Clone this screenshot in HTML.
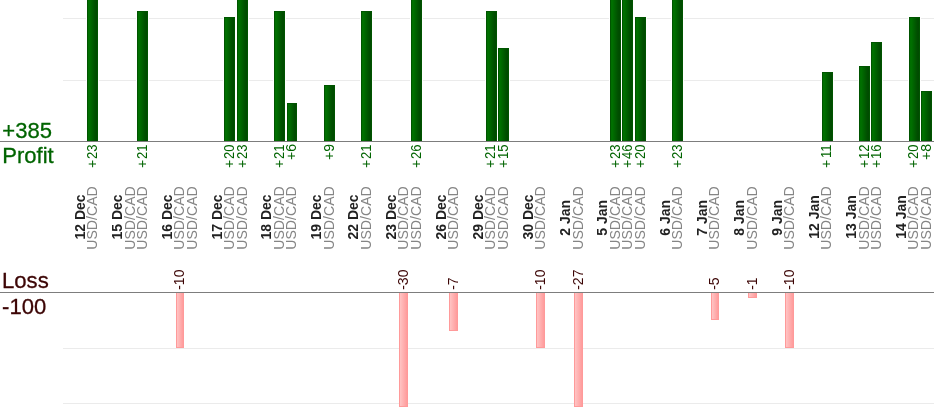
<!DOCTYPE html>
<html><head><meta charset="utf-8"><title>Profit / Loss</title>
<style>html,body{margin:0;padding:0;background:#fff;overflow:hidden}svg{display:block;font-family:"Liberation Sans",sans-serif}</style></head>
<body>
<svg width="934" height="420" viewBox="0 0 934 420">
<defs><linearGradient id="g" x1="0" y1="0" x2="1" y2="0"><stop offset="0" stop-color="#006e00"/><stop offset="0.15" stop-color="#007000"/><stop offset="0.8" stop-color="#004e00"/><stop offset="1" stop-color="#004a00"/></linearGradient>
<linearGradient id="r" x1="0" y1="0" x2="1" y2="0"><stop offset="0" stop-color="#ffc4c4"/><stop offset="1" stop-color="#ff9c9c"/></linearGradient></defs>
<rect width="934" height="420" fill="#fff"/>
<rect x="63" y="18" width="871" height="1" fill="#ebebeb"/>
<rect x="63" y="80" width="871" height="1" fill="#ebebeb"/>
<rect x="63" y="348" width="871" height="1" fill="#ebebeb"/>
<rect x="63" y="403" width="871" height="1" fill="#ebebeb"/>
<rect x="86" y="-4" width="13" height="145" fill="#fff"/>
<rect x="87" y="-3" width="11" height="144" fill="#005400"/>
<rect x="88" y="-2" width="9" height="143" fill="url(#g)"/>
<rect x="136" y="10" width="13" height="131" fill="#fff"/>
<rect x="137" y="11" width="11" height="130" fill="#005400"/>
<rect x="138" y="12" width="9" height="129" fill="url(#g)"/>
<rect x="176" y="293" width="8" height="55" fill="#ff9a9a"/>
<rect x="177" y="293" width="6" height="54" fill="url(#r)"/>
<rect x="223" y="16" width="13" height="125" fill="#fff"/>
<rect x="224" y="17" width="11" height="124" fill="#005400"/>
<rect x="225" y="18" width="9" height="123" fill="url(#g)"/>
<rect x="236" y="-4" width="13" height="145" fill="#fff"/>
<rect x="237" y="-3" width="11" height="144" fill="#005400"/>
<rect x="238" y="-2" width="9" height="143" fill="url(#g)"/>
<rect x="273" y="10" width="13" height="131" fill="#fff"/>
<rect x="274" y="11" width="11" height="130" fill="#005400"/>
<rect x="275" y="12" width="9" height="129" fill="url(#g)"/>
<rect x="286" y="102" width="12" height="39" fill="#fff"/>
<rect x="287" y="103" width="10" height="38" fill="#005400"/>
<rect x="288" y="104" width="8" height="37" fill="url(#g)"/>
<rect x="323" y="84" width="13" height="57" fill="#fff"/>
<rect x="324" y="85" width="11" height="56" fill="#005400"/>
<rect x="325" y="86" width="9" height="55" fill="url(#g)"/>
<rect x="360" y="10" width="13" height="131" fill="#fff"/>
<rect x="361" y="11" width="11" height="130" fill="#005400"/>
<rect x="362" y="12" width="9" height="129" fill="url(#g)"/>
<rect x="399" y="293" width="9" height="114" fill="#ff9a9a"/>
<rect x="400" y="293" width="7" height="113" fill="url(#r)"/>
<rect x="410" y="-4" width="13" height="145" fill="#fff"/>
<rect x="411" y="-3" width="11" height="144" fill="#005400"/>
<rect x="412" y="-2" width="9" height="143" fill="url(#g)"/>
<rect x="449" y="293" width="9" height="38" fill="#ff9a9a"/>
<rect x="450" y="293" width="7" height="37" fill="url(#r)"/>
<rect x="485" y="10" width="13" height="131" fill="#fff"/>
<rect x="486" y="11" width="11" height="130" fill="#005400"/>
<rect x="487" y="12" width="9" height="129" fill="url(#g)"/>
<rect x="497" y="47" width="13" height="94" fill="#fff"/>
<rect x="498" y="48" width="11" height="93" fill="#005400"/>
<rect x="499" y="49" width="9" height="92" fill="url(#g)"/>
<rect x="536" y="293" width="9" height="55" fill="#ff9a9a"/>
<rect x="537" y="293" width="7" height="54" fill="url(#r)"/>
<rect x="574" y="293" width="9" height="114" fill="#ff9a9a"/>
<rect x="575" y="293" width="7" height="113" fill="url(#r)"/>
<rect x="609" y="-4" width="13" height="145" fill="#fff"/>
<rect x="610" y="-3" width="11" height="144" fill="#005400"/>
<rect x="611" y="-2" width="9" height="143" fill="url(#g)"/>
<rect x="621" y="-4" width="13" height="145" fill="#fff"/>
<rect x="622" y="-3" width="11" height="144" fill="#005400"/>
<rect x="623" y="-2" width="9" height="143" fill="url(#g)"/>
<rect x="634" y="16" width="13" height="125" fill="#fff"/>
<rect x="635" y="17" width="11" height="124" fill="#005400"/>
<rect x="636" y="18" width="9" height="123" fill="url(#g)"/>
<rect x="671" y="-4" width="13" height="145" fill="#fff"/>
<rect x="672" y="-3" width="11" height="144" fill="#005400"/>
<rect x="673" y="-2" width="9" height="143" fill="url(#g)"/>
<rect x="711" y="293" width="8" height="27" fill="#ff9a9a"/>
<rect x="712" y="293" width="6" height="26" fill="url(#r)"/>
<rect x="748" y="293" width="9" height="5" fill="#ff9a9a"/>
<rect x="749" y="293" width="7" height="4" fill="url(#r)"/>
<rect x="785" y="293" width="9" height="55" fill="#ff9a9a"/>
<rect x="786" y="293" width="7" height="54" fill="url(#r)"/>
<rect x="821" y="71" width="13" height="70" fill="#fff"/>
<rect x="822" y="72" width="11" height="69" fill="#005400"/>
<rect x="823" y="73" width="9" height="68" fill="url(#g)"/>
<rect x="858" y="65" width="13" height="76" fill="#fff"/>
<rect x="859" y="66" width="11" height="75" fill="#005400"/>
<rect x="860" y="67" width="9" height="74" fill="url(#g)"/>
<rect x="870" y="41" width="13" height="100" fill="#fff"/>
<rect x="871" y="42" width="11" height="99" fill="#005400"/>
<rect x="872" y="43" width="9" height="98" fill="url(#g)"/>
<rect x="908" y="16" width="13" height="125" fill="#fff"/>
<rect x="909" y="17" width="11" height="124" fill="#005400"/>
<rect x="910" y="18" width="9" height="123" fill="url(#g)"/>
<rect x="920" y="90" width="13" height="51" fill="#fff"/>
<rect x="921" y="91" width="11" height="50" fill="#005400"/>
<rect x="922" y="92" width="9" height="49" fill="url(#g)"/>
<rect x="0" y="141" width="934" height="1" fill="#7d7d7d"/>
<rect x="0" y="292" width="934" height="1" fill="#7d7d7d"/>
<text transform="translate(84.70,217.0) rotate(-90)" text-anchor="middle" font-size="14" font-weight="bold" fill="#222">12 Dec</text>
<text transform="translate(97.25,218.0) rotate(-90)" text-anchor="middle" font-size="14.1" fill="#858585">USD/CAD</text>
<text transform="translate(97.25,144.60000000000002) rotate(-90) scale(0.93,1)" text-anchor="end" font-size="14" fill="#006400">23</text>
<text transform="translate(97.25,159.87) rotate(-90)" text-anchor="end" font-size="14" fill="#006400">+</text>
<text transform="translate(122.03,217.0) rotate(-90)" text-anchor="middle" font-size="14" font-weight="bold" fill="#222">15 Dec</text>
<text transform="translate(134.57,218.0) rotate(-90)" text-anchor="middle" font-size="14.1" fill="#858585">USD/CAD</text>
<text transform="translate(147.02,218.0) rotate(-90)" text-anchor="middle" font-size="14.1" fill="#858585">USD/CAD</text>
<text transform="translate(147.02,144.60000000000002) rotate(-90) scale(0.93,1)" text-anchor="end" font-size="14" fill="#006400">21</text>
<text transform="translate(147.02,159.87) rotate(-90)" text-anchor="end" font-size="14" fill="#006400">+</text>
<text transform="translate(171.80,217.0) rotate(-90)" text-anchor="middle" font-size="14" font-weight="bold" fill="#222">16 Dec</text>
<text transform="translate(184.35,218.0) rotate(-90)" text-anchor="middle" font-size="14.1" fill="#858585">USD/CAD</text>
<text transform="translate(184.35,289.8) rotate(-90)" text-anchor="start" font-size="14" fill="#3c0505">-10</text>
<text transform="translate(196.79,218.0) rotate(-90)" text-anchor="middle" font-size="14.1" fill="#858585">USD/CAD</text>
<text transform="translate(221.57,217.0) rotate(-90)" text-anchor="middle" font-size="14" font-weight="bold" fill="#222">17 Dec</text>
<text transform="translate(234.12,218.0) rotate(-90)" text-anchor="middle" font-size="14.1" fill="#858585">USD/CAD</text>
<text transform="translate(234.12,144.60000000000002) rotate(-90) scale(0.93,1)" text-anchor="end" font-size="14" fill="#006400">20</text>
<text transform="translate(234.12,159.87) rotate(-90)" text-anchor="end" font-size="14" fill="#006400">+</text>
<text transform="translate(246.56,218.0) rotate(-90)" text-anchor="middle" font-size="14.1" fill="#858585">USD/CAD</text>
<text transform="translate(246.56,144.60000000000002) rotate(-90) scale(0.93,1)" text-anchor="end" font-size="14" fill="#006400">23</text>
<text transform="translate(246.56,159.87) rotate(-90)" text-anchor="end" font-size="14" fill="#006400">+</text>
<text transform="translate(271.35,217.0) rotate(-90)" text-anchor="middle" font-size="14" font-weight="bold" fill="#222">18 Dec</text>
<text transform="translate(283.89,218.0) rotate(-90)" text-anchor="middle" font-size="14.1" fill="#858585">USD/CAD</text>
<text transform="translate(283.89,144.60000000000002) rotate(-90) scale(0.93,1)" text-anchor="end" font-size="14" fill="#006400">21</text>
<text transform="translate(283.89,159.87) rotate(-90)" text-anchor="end" font-size="14" fill="#006400">+</text>
<text transform="translate(296.33,218.0) rotate(-90)" text-anchor="middle" font-size="14.1" fill="#858585">USD/CAD</text>
<text transform="translate(296.33,144.0) rotate(-90)" text-anchor="end" font-size="14" fill="#006400">+6</text>
<text transform="translate(321.12,217.0) rotate(-90)" text-anchor="middle" font-size="14" font-weight="bold" fill="#222">19 Dec</text>
<text transform="translate(333.66,218.0) rotate(-90)" text-anchor="middle" font-size="14.1" fill="#858585">USD/CAD</text>
<text transform="translate(333.66,144.0) rotate(-90)" text-anchor="end" font-size="14" fill="#006400">+9</text>
<text transform="translate(358.45,217.0) rotate(-90)" text-anchor="middle" font-size="14" font-weight="bold" fill="#222">22 Dec</text>
<text transform="translate(370.99,218.0) rotate(-90)" text-anchor="middle" font-size="14.1" fill="#858585">USD/CAD</text>
<text transform="translate(370.99,144.60000000000002) rotate(-90) scale(0.93,1)" text-anchor="end" font-size="14" fill="#006400">21</text>
<text transform="translate(370.99,159.87) rotate(-90)" text-anchor="end" font-size="14" fill="#006400">+</text>
<text transform="translate(395.77,217.0) rotate(-90)" text-anchor="middle" font-size="14" font-weight="bold" fill="#222">23 Dec</text>
<text transform="translate(408.32,218.0) rotate(-90)" text-anchor="middle" font-size="14.1" fill="#858585">USD/CAD</text>
<text transform="translate(408.32,289.8) rotate(-90)" text-anchor="start" font-size="14" fill="#3c0505">-30</text>
<text transform="translate(420.76,218.0) rotate(-90)" text-anchor="middle" font-size="14.1" fill="#858585">USD/CAD</text>
<text transform="translate(420.76,144.60000000000002) rotate(-90) scale(0.93,1)" text-anchor="end" font-size="14" fill="#006400">26</text>
<text transform="translate(420.76,159.87) rotate(-90)" text-anchor="end" font-size="14" fill="#006400">+</text>
<text transform="translate(445.55,217.0) rotate(-90)" text-anchor="middle" font-size="14" font-weight="bold" fill="#222">26 Dec</text>
<text transform="translate(458.09,218.0) rotate(-90)" text-anchor="middle" font-size="14.1" fill="#858585">USD/CAD</text>
<text transform="translate(458.09,289.8) rotate(-90)" text-anchor="start" font-size="14" fill="#3c0505">-7</text>
<text transform="translate(482.87,217.0) rotate(-90)" text-anchor="middle" font-size="14" font-weight="bold" fill="#222">29 Dec</text>
<text transform="translate(495.42,218.0) rotate(-90)" text-anchor="middle" font-size="14.1" fill="#858585">USD/CAD</text>
<text transform="translate(495.42,144.60000000000002) rotate(-90) scale(0.93,1)" text-anchor="end" font-size="14" fill="#006400">21</text>
<text transform="translate(495.42,159.87) rotate(-90)" text-anchor="end" font-size="14" fill="#006400">+</text>
<text transform="translate(507.86,218.0) rotate(-90)" text-anchor="middle" font-size="14.1" fill="#858585">USD/CAD</text>
<text transform="translate(507.86,144.60000000000002) rotate(-90) scale(0.93,1)" text-anchor="end" font-size="14" fill="#006400">15</text>
<text transform="translate(507.86,159.87) rotate(-90)" text-anchor="end" font-size="14" fill="#006400">+</text>
<text transform="translate(532.65,217.0) rotate(-90)" text-anchor="middle" font-size="14" font-weight="bold" fill="#222">30 Dec</text>
<text transform="translate(545.19,218.0) rotate(-90)" text-anchor="middle" font-size="14.1" fill="#858585">USD/CAD</text>
<text transform="translate(545.19,289.8) rotate(-90)" text-anchor="start" font-size="14" fill="#3c0505">-10</text>
<text transform="translate(569.97,217.8) rotate(-90)" text-anchor="middle" font-size="14" font-weight="bold" fill="#222">2 Jan</text>
<text transform="translate(582.52,218.0) rotate(-90)" text-anchor="middle" font-size="14.1" fill="#858585">USD/CAD</text>
<text transform="translate(582.52,289.8) rotate(-90)" text-anchor="start" font-size="14" fill="#3c0505">-27</text>
<text transform="translate(607.30,217.8) rotate(-90)" text-anchor="middle" font-size="14" font-weight="bold" fill="#222">5 Jan</text>
<text transform="translate(619.85,218.0) rotate(-90)" text-anchor="middle" font-size="14.1" fill="#858585">USD/CAD</text>
<text transform="translate(619.85,144.60000000000002) rotate(-90) scale(0.93,1)" text-anchor="end" font-size="14" fill="#006400">23</text>
<text transform="translate(619.85,159.87) rotate(-90)" text-anchor="end" font-size="14" fill="#006400">+</text>
<text transform="translate(632.29,218.0) rotate(-90)" text-anchor="middle" font-size="14.1" fill="#858585">USD/CAD</text>
<text transform="translate(632.29,144.60000000000002) rotate(-90) scale(0.93,1)" text-anchor="end" font-size="14" fill="#006400">46</text>
<text transform="translate(632.29,159.87) rotate(-90)" text-anchor="end" font-size="14" fill="#006400">+</text>
<text transform="translate(644.73,218.0) rotate(-90)" text-anchor="middle" font-size="14.1" fill="#858585">USD/CAD</text>
<text transform="translate(644.73,144.60000000000002) rotate(-90) scale(0.93,1)" text-anchor="end" font-size="14" fill="#006400">20</text>
<text transform="translate(644.73,159.87) rotate(-90)" text-anchor="end" font-size="14" fill="#006400">+</text>
<text transform="translate(669.52,217.8) rotate(-90)" text-anchor="middle" font-size="14" font-weight="bold" fill="#222">6 Jan</text>
<text transform="translate(682.06,218.0) rotate(-90)" text-anchor="middle" font-size="14.1" fill="#858585">USD/CAD</text>
<text transform="translate(682.06,144.60000000000002) rotate(-90) scale(0.93,1)" text-anchor="end" font-size="14" fill="#006400">23</text>
<text transform="translate(682.06,159.87) rotate(-90)" text-anchor="end" font-size="14" fill="#006400">+</text>
<text transform="translate(706.85,217.8) rotate(-90)" text-anchor="middle" font-size="14" font-weight="bold" fill="#222">7 Jan</text>
<text transform="translate(719.39,218.0) rotate(-90)" text-anchor="middle" font-size="14.1" fill="#858585">USD/CAD</text>
<text transform="translate(719.39,289.8) rotate(-90)" text-anchor="start" font-size="14" fill="#3c0505">-5</text>
<text transform="translate(744.17,217.8) rotate(-90)" text-anchor="middle" font-size="14" font-weight="bold" fill="#222">8 Jan</text>
<text transform="translate(756.72,218.0) rotate(-90)" text-anchor="middle" font-size="14.1" fill="#858585">USD/CAD</text>
<text transform="translate(756.72,289.8) rotate(-90)" text-anchor="start" font-size="14" fill="#3c0505">-1</text>
<text transform="translate(781.50,217.8) rotate(-90)" text-anchor="middle" font-size="14" font-weight="bold" fill="#222">9 Jan</text>
<text transform="translate(794.05,218.0) rotate(-90)" text-anchor="middle" font-size="14.1" fill="#858585">USD/CAD</text>
<text transform="translate(794.05,289.8) rotate(-90)" text-anchor="start" font-size="14" fill="#3c0505">-10</text>
<text transform="translate(818.83,217.0) rotate(-90)" text-anchor="middle" font-size="14" font-weight="bold" fill="#222">12 Jan</text>
<text transform="translate(831.37,218.0) rotate(-90)" text-anchor="middle" font-size="14.1" fill="#858585">USD/CAD</text>
<text transform="translate(831.37,144.60000000000002) rotate(-90) scale(0.93,1)" text-anchor="end" font-size="14" fill="#006400">11</text>
<text transform="translate(831.37,159.87) rotate(-90)" text-anchor="end" font-size="14" fill="#006400">+</text>
<text transform="translate(856.16,217.0) rotate(-90)" text-anchor="middle" font-size="14" font-weight="bold" fill="#222">13 Jan</text>
<text transform="translate(868.70,218.0) rotate(-90)" text-anchor="middle" font-size="14.1" fill="#858585">USD/CAD</text>
<text transform="translate(868.70,144.60000000000002) rotate(-90) scale(0.93,1)" text-anchor="end" font-size="14" fill="#006400">12</text>
<text transform="translate(868.70,159.87) rotate(-90)" text-anchor="end" font-size="14" fill="#006400">+</text>
<text transform="translate(881.15,218.0) rotate(-90)" text-anchor="middle" font-size="14.1" fill="#858585">USD/CAD</text>
<text transform="translate(881.15,144.60000000000002) rotate(-90) scale(0.93,1)" text-anchor="end" font-size="14" fill="#006400">16</text>
<text transform="translate(881.15,159.87) rotate(-90)" text-anchor="end" font-size="14" fill="#006400">+</text>
<text transform="translate(905.93,217.0) rotate(-90)" text-anchor="middle" font-size="14" font-weight="bold" fill="#222">14 Jan</text>
<text transform="translate(918.47,218.0) rotate(-90)" text-anchor="middle" font-size="14.1" fill="#858585">USD/CAD</text>
<text transform="translate(918.47,144.60000000000002) rotate(-90) scale(0.93,1)" text-anchor="end" font-size="14" fill="#006400">20</text>
<text transform="translate(918.47,159.87) rotate(-90)" text-anchor="end" font-size="14" fill="#006400">+</text>
<text transform="translate(930.92,218.0) rotate(-90)" text-anchor="middle" font-size="14.1" fill="#858585">USD/CAD</text>
<text transform="translate(930.92,144.0) rotate(-90)" text-anchor="end" font-size="14" fill="#006400">+8</text>
<text transform="translate(2.3,138) scale(0.98,1)" font-size="22.5" fill="#006400" stroke="#006400" stroke-width="0.3">+385</text>
<text transform="translate(2.3,163) scale(0.98,1)" font-size="22.5" fill="#006400" stroke="#006400" stroke-width="0.3">Profit</text>
<text transform="translate(1.9,288) scale(0.985,1)" font-size="22.5" fill="#3c0505" stroke="#3c0505" stroke-width="0.3">Loss</text>
<text transform="translate(2.1,314) scale(0.98,1)" font-size="22.5" fill="#3c0505" stroke="#3c0505" stroke-width="0.3">-100</text>
</svg>
</body></html>
